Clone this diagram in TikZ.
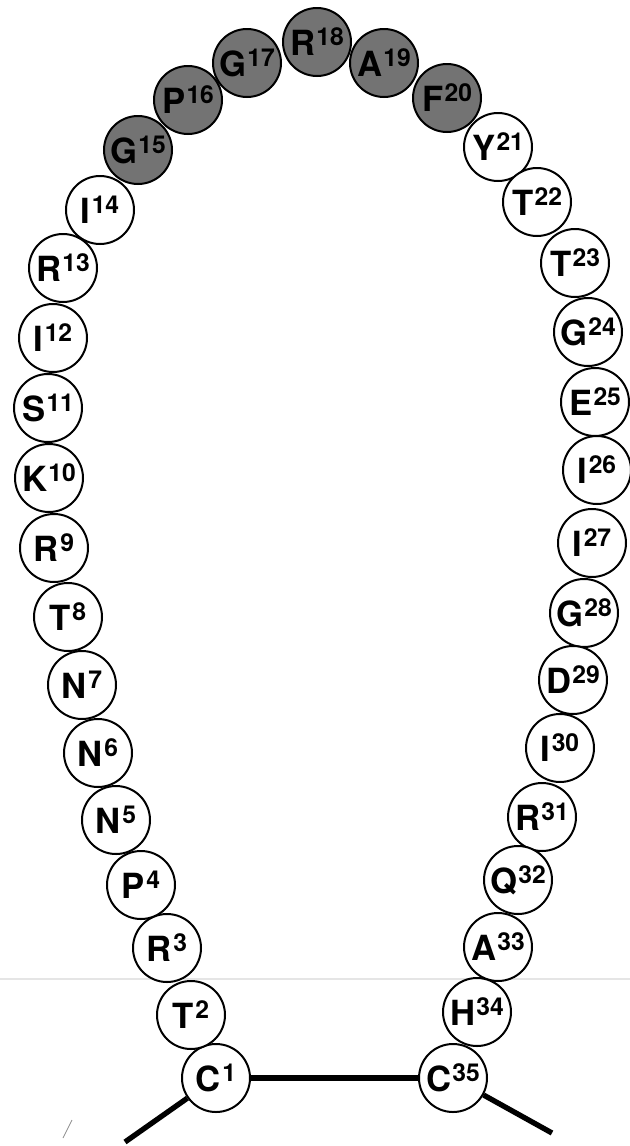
\documentclass[tikz,border=0pt]{standalone}
\usepackage{fontspec}
\setmainfont{TeX Gyre Heros}
\usetikzlibrary{calc}

% residue label: letter with its position number raised
\newcommand{\resid}[2]{{\fontsize{26}{26}\selectfont\bfseries #1}\kern1pt\raisebox{7.5pt}{\fontsize{18.5}{18.5}\selectfont\bfseries #2}}

\begin{document}
\begin{tikzpicture}[x=0.75pt,y=-0.75pt,
  res/.style={circle,draw,line width=1.5pt,minimum size=51pt,inner sep=0pt,fill=white},
  hit/.style={res,fill=black!55},
  bond/.style={line width=4pt}]
  \useasboundingbox (0,0) rectangle (630,1146);
  % scan marks
  \draw[black!10,line width=0.8pt] (0,979) -- (630,979);
  \draw[black!45,line width=0.6pt] (72,1120) -- (63,1138);
  % left strand
  \node[res] (r1) at (216,1078) {\resid{C}{1}};
  \node[res] (r2) at (191,1015) {\resid{T}{2}};
  \node[res] (r3) at (167,948) {\resid{R}{3}};
  \node[res] (r4) at (141,885) {\resid{P}{4}};
  \node[res] (r5) at (116,820) {\resid{N}{5}};
  \node[res] (r6) at (98,753) {\resid{N}{6}};
  \node[res] (r7) at (82,685) {\resid{N}{7}};
  \node[res] (r8) at (68,617) {\resid{T}{8}};
  \node[res] (r9) at (54,548) {\resid{R}{9}};
  \node[res] (r10) at (49,478) {\resid{K}{10}};
  \node[res] (r11) at (48,408) {\resid{S}{11}};
  \node[res] (r12) at (53,338) {\resid{I}{12}};
  \node[res] (r13) at (63,268) {\resid{R}{13}};
  \node[res] (r14) at (100,210) {\resid{I}{14}};
  % shaded top of the loop
  \node[hit] (r15) at (138,150) {\resid{G}{15}};
  \node[hit] (r16) at (188,100) {\resid{P}{16}};
  \node[hit] (r17) at (247,63) {\resid{G}{17}};
  \node[hit] (r18) at (317,42) {\resid{R}{18}};
  \node[hit] (r19) at (384,63) {\resid{A}{19}};
  \node[hit] (r20) at (447,98) {\resid{F}{20}};
  % right strand
  \node[res] (r21) at (498,147) {\resid{Y}{21}};
  \node[res] (r22) at (537,202) {\resid{T}{22}};
  \node[res] (r23) at (575,263) {\resid{T}{23}};
  \node[res] (r24) at (588,332) {\resid{G}{24}};
  \node[res] (r25) at (595,402) {\resid{E}{25}};
  \node[res] (r26) at (597,470) {\resid{I}{26}};
  \node[res] (r27) at (592,543) {\resid{I}{27}};
  \node[res] (r28) at (584,613) {\resid{G}{28}};
  \node[res] (r29) at (573,680) {\resid{D}{29}};
  \node[res] (r30) at (560,748) {\resid{I}{30}};
  \node[res] (r31) at (542,817) {\resid{R}{31}};
  \node[res] (r32) at (518,880) {\resid{Q}{32}};
  \node[res] (r33) at (498,947) {\resid{A}{33}};
  \node[res] (r34) at (477,1012) {\resid{H}{34}};
  \node[res] (r35) at (453,1078) {\resid{C}{35}};
  % disulfide bridge and tails
  \coordinate (tailL) at (125,1142);
  \coordinate (tailR) at (552,1133);
  \draw[bond] (r1) -- (r35);
  \draw[bond] (r1) -- (tailL);
  \draw[bond] (r35) -- (tailR);
\end{tikzpicture}
\end{document}
